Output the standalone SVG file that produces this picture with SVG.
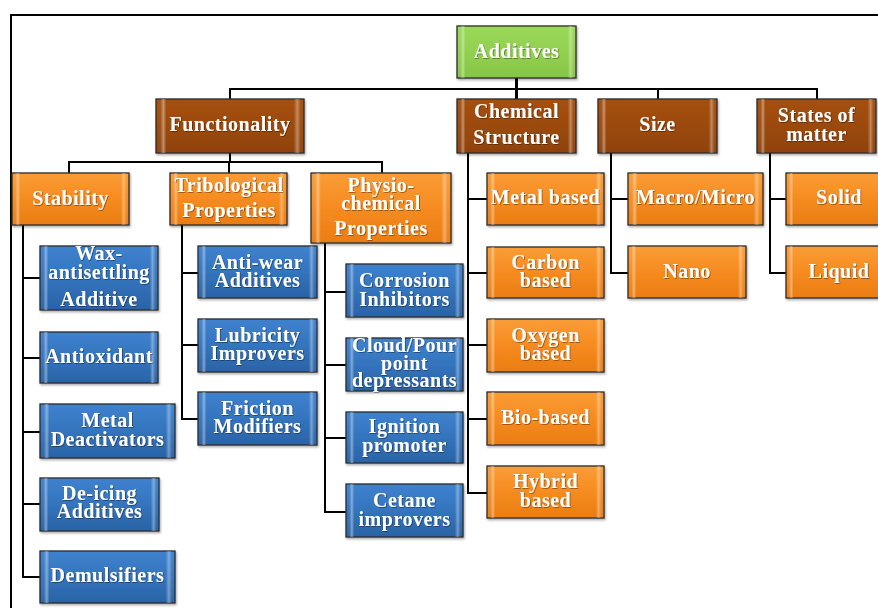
<svg xmlns="http://www.w3.org/2000/svg" width="878" height="608" viewBox="0 0 878 608">
<defs>
<linearGradient id="gOrange" x1="0" y1="0" x2="0" y2="1"><stop offset="0" stop-color="#fa9d36"/><stop offset="0.5" stop-color="#f68b20"/><stop offset="1" stop-color="#e97d12"/></linearGradient>
<linearGradient id="gBrown" x1="0" y1="0" x2="0" y2="1"><stop offset="0" stop-color="#a5500f"/><stop offset="0.5" stop-color="#9c4a0a"/><stop offset="1" stop-color="#8f4208"/></linearGradient>
<linearGradient id="gBlue" x1="0" y1="0" x2="0" y2="1"><stop offset="0" stop-color="#3f82cf"/><stop offset="0.5" stop-color="#3474bd"/><stop offset="1" stop-color="#2a63a6"/></linearGradient>
<linearGradient id="gGreen" x1="0" y1="0" x2="0" y2="1"><stop offset="0" stop-color="#9ad85a"/><stop offset="0.5" stop-color="#92d050"/><stop offset="1" stop-color="#86c444"/></linearGradient>
<linearGradient id="bevel" x1="0" y1="0" x2="1" y2="0"><stop offset="0" stop-color="#fff" stop-opacity="0"/><stop offset="0.03" stop-color="#fff" stop-opacity="0.05"/><stop offset="0.05" stop-color="#fff" stop-opacity="0.4"/><stop offset="0.07" stop-color="#fff" stop-opacity="0"/><stop offset="0.93" stop-color="#fff" stop-opacity="0"/><stop offset="0.955" stop-color="#fff" stop-opacity="0.35"/><stop offset="0.975" stop-color="#fff" stop-opacity="0.05"/><stop offset="1" stop-color="#fff" stop-opacity="0"/></linearGradient>
<filter id="sh" x="-10%" y="-10%" width="130%" height="140%"><feDropShadow dx="1" dy="1.5" stdDeviation="1" flood-color="#000" flood-opacity="0.35"/></filter>
<filter id="tsh" x="-10%" y="-20%" width="130%" height="150%"><feDropShadow dx="0.8" dy="0.8" stdDeviation="0.6" flood-color="#000" flood-opacity="0.45"/></filter>
</defs>
<style>
.box{stroke:#2b2b2b;stroke-width:1.3;filter:url(#sh)}
.bev{fill:url(#bevel);stroke:none}
.orange .box{fill:url(#gOrange)}
.brown .box{fill:url(#gBrown)}
.blue .box{fill:url(#gBlue)}
.green .box{fill:url(#gGreen)}
text{font-family:"Liberation Serif","Times New Roman",serif;font-weight:bold;font-size:20px;fill:#fff;text-anchor:middle;letter-spacing:0.5px;filter:url(#tsh)}
.ln{fill:none;stroke:#000;stroke-width:2;stroke-linejoin:miter;stroke-linecap:square}
</style>
<rect width="878" height="608" fill="#fff"/>
<path class="ln" d="M11,608 V15 H878"/>
<g id="connectors">
<path class="ln" d="M230,99 V89 H817 V99 M658,89 V99"/>
<path class="ln" d="M516.5,78 V99" style="stroke-width:3"/>
<path class="ln" d="M230,153 V162 M69,173 V162 H382 V173 M229,162 V173"/>
<path class="ln" d="M23,225 V577 H40 M23,278 H40 M23,358 H40 M23,432 H40 M23,504 H40"/>
<path class="ln" d="M182,225 V419 H198 M182,273 H198 M182,345 H198"/>
<path class="ln" d="M325,243 V512 H346 M325,292 H346 M325,365 H346 M325,438 H346"/>
<path class="ln" d="M468,153 V493 H487 M468,199 H487 M468,273 H487 M468,345 H487 M468,419 H487"/>
<path class="ln" d="M611,153 V273 H628 M611,199 H628"/>
<path class="ln" d="M770,153 V273 H786 M770,199 H786"/>
</g>
<g id="additives" class="green"><rect class="box" x="457" y="26" width="119" height="52"/><rect class="bev" x="457" y="26" width="119" height="52"/><text x="516.5" y="58">Additives</text></g>
<g id="functionality" class="brown"><rect class="box" x="156" y="99" width="148" height="54"/><rect class="bev" x="156" y="99" width="148" height="54"/><text x="230" y="131">Functionality</text></g>
<g id="chemical-structure" class="brown"><rect class="box" x="457" y="99" width="119" height="54"/><rect class="bev" x="457" y="99" width="119" height="54"/><text x="516.5" y="118">Chemical</text><text x="516.5" y="144">Structure</text></g>
<g id="size" class="brown"><rect class="box" x="598" y="99" width="119" height="54"/><rect class="bev" x="598" y="99" width="119" height="54"/><text x="657.5" y="131">Size</text></g>
<g id="states-of-matter" class="brown"><rect class="box" x="757" y="99" width="119" height="54"/><rect class="bev" x="757" y="99" width="119" height="54"/><text x="816.5" y="122">States of</text><text x="816.5" y="141">matter</text></g>
<g id="stability" class="orange"><rect class="box" x="12" y="173" width="117" height="52"/><rect class="bev" x="12" y="173" width="117" height="52"/><text x="70.5" y="205">Stability</text></g>
<g id="tribological" class="orange"><rect class="box" x="170" y="173" width="117" height="52"/><rect class="bev" x="170" y="173" width="117" height="52"/><text x="229" y="192">Tribological</text><text x="229" y="217">Properties</text></g>
<g id="physio-chemical" class="orange"><rect class="box" x="311" y="173" width="140" height="70"/><rect class="bev" x="311" y="173" width="140" height="70"/><text x="381" y="192">Physio-</text><text x="381" y="210">chemical</text><text x="381" y="235">Properties</text></g>
<g id="wax" class="blue"><rect class="box" x="40" y="246" width="118" height="64"/><rect class="bev" x="40" y="246" width="118" height="64"/><text x="99" y="260">Wax-</text><text x="99" y="279">antisettling</text><text x="99" y="306">Additive</text></g>
<g id="antioxidant" class="blue"><rect class="box" x="40" y="332" width="118" height="51"/><rect class="bev" x="40" y="332" width="118" height="51"/><text x="99" y="363">Antioxidant</text></g>
<g id="metal-deactivators" class="blue"><rect class="box" x="40" y="404" width="135" height="54"/><rect class="bev" x="40" y="404" width="135" height="54"/><text x="107.5" y="427">Metal</text><text x="107.5" y="446">Deactivators</text></g>
<g id="de-icing" class="blue"><rect class="box" x="40" y="478" width="119" height="53"/><rect class="bev" x="40" y="478" width="119" height="53"/><text x="99.5" y="500">De-icing</text><text x="99.5" y="518">Additives</text></g>
<g id="demulsifiers" class="blue"><rect class="box" x="40" y="551" width="135" height="52"/><rect class="bev" x="40" y="551" width="135" height="52"/><text x="107.5" y="582">Demulsifiers</text></g>
<g id="anti-wear" class="blue"><rect class="box" x="198" y="246" width="119" height="52"/><rect class="bev" x="198" y="246" width="119" height="52"/><text x="257.5" y="269">Anti-wear</text><text x="257.5" y="287">Additives</text></g>
<g id="lubricity" class="blue"><rect class="box" x="198" y="319" width="119" height="53"/><rect class="bev" x="198" y="319" width="119" height="53"/><text x="257.5" y="342">Lubricity</text><text x="257.5" y="360">Improvers</text></g>
<g id="friction" class="blue"><rect class="box" x="198" y="392" width="119" height="53"/><rect class="bev" x="198" y="392" width="119" height="53"/><text x="257.5" y="415">Friction</text><text x="257.5" y="433">Modifiers</text></g>
<g id="corrosion" class="blue"><rect class="box" x="346" y="264" width="117" height="53"/><rect class="bev" x="346" y="264" width="117" height="53"/><text x="404.5" y="287">Corrosion</text><text x="404.5" y="306">Inhibitors</text></g>
<g id="cloud-pour" class="blue"><rect class="box" x="346" y="338" width="117" height="53"/><rect class="bev" x="346" y="338" width="117" height="53"/><text x="404.5" y="352">Cloud/Pour</text><text x="404.5" y="370">point</text><text x="404.5" y="387">depressants</text></g>
<g id="ignition" class="blue"><rect class="box" x="346" y="412" width="117" height="51"/><rect class="bev" x="346" y="412" width="117" height="51"/><text x="404.5" y="433">Ignition</text><text x="404.5" y="452">promoter</text></g>
<g id="cetane" class="blue"><rect class="box" x="346" y="484" width="117" height="53"/><rect class="bev" x="346" y="484" width="117" height="53"/><text x="404.5" y="507">Cetane</text><text x="404.5" y="526">improvers</text></g>
<g id="metal-based" class="orange"><rect class="box" x="487" y="173" width="117" height="52"/><rect class="bev" x="487" y="173" width="117" height="52"/><text x="545.5" y="204">Metal based</text></g>
<g id="carbon-based" class="orange"><rect class="box" x="487" y="247" width="117" height="51"/><rect class="bev" x="487" y="247" width="117" height="51"/><text x="545.5" y="269">Carbon</text><text x="545.5" y="287">based</text></g>
<g id="oxygen-based" class="orange"><rect class="box" x="487" y="319" width="117" height="53"/><rect class="bev" x="487" y="319" width="117" height="53"/><text x="545.5" y="342">Oxygen</text><text x="545.5" y="360">based</text></g>
<g id="bio-based" class="orange"><rect class="box" x="487" y="392" width="117" height="53"/><rect class="bev" x="487" y="392" width="117" height="53"/><text x="545.5" y="424">Bio-based</text></g>
<g id="hybrid-based" class="orange"><rect class="box" x="487" y="466" width="117" height="52"/><rect class="bev" x="487" y="466" width="117" height="52"/><text x="545.5" y="488">Hybrid</text><text x="545.5" y="507">based</text></g>
<g id="macro-micro" class="orange"><rect class="box" x="628" y="173" width="135" height="52"/><rect class="bev" x="628" y="173" width="135" height="52"/><text x="695.5" y="204">Macro/Micro</text></g>
<g id="nano" class="orange"><rect class="box" x="628" y="246" width="118" height="52"/><rect class="bev" x="628" y="246" width="118" height="52"/><text x="687" y="278">Nano</text></g>
<g id="solid" class="orange"><rect class="box" x="786" y="173" width="106" height="52"/><rect class="bev" x="786" y="173" width="106" height="52"/><text x="839" y="204">Solid</text></g>
<g id="liquid" class="orange"><rect class="box" x="786" y="246" width="106" height="52"/><rect class="bev" x="786" y="246" width="106" height="52"/><text x="839" y="278">Liquid</text></g>
</svg>
